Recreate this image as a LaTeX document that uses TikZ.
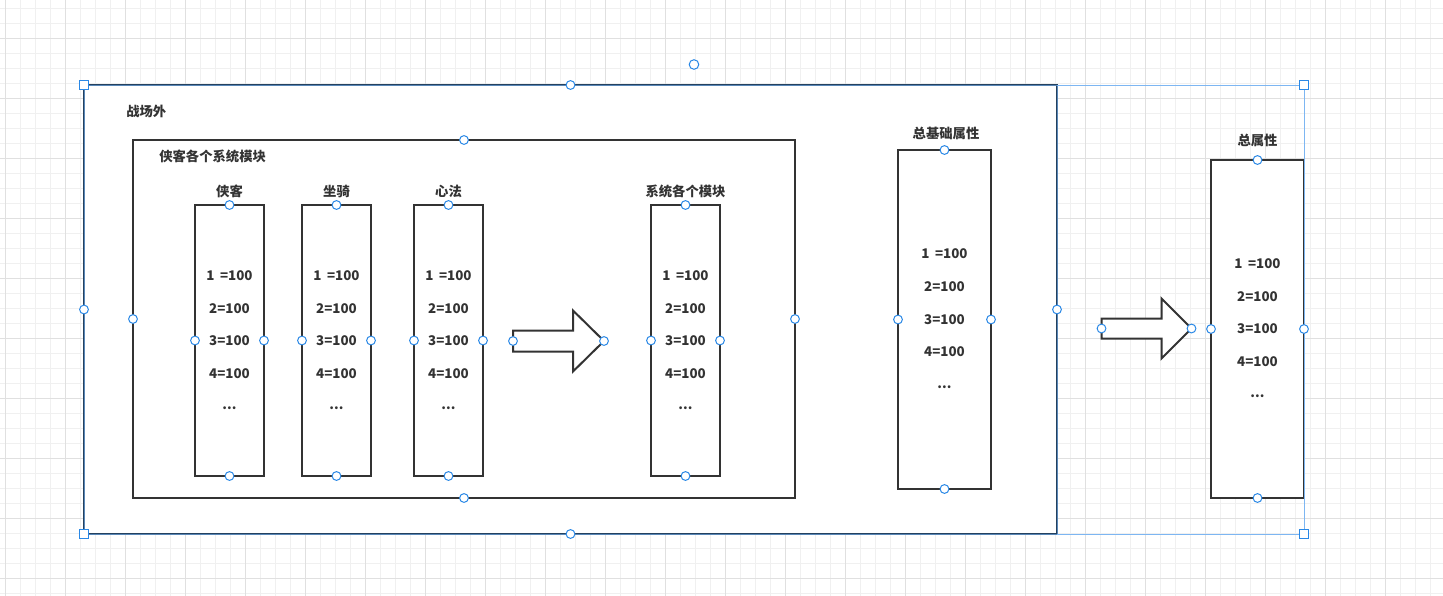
\documentclass[tikz,border=0pt]{standalone}
\usepackage{fontspec}
\setmainfont{Noto Sans CJK SC}
\usetikzlibrary{calc}
\begin{document}
\definecolor{ink}{HTML}{333333}
\definecolor{handle}{HTML}{2A88E6}
\definecolor{selline}{HTML}{7DB6F2}
\definecolor{gridminor}{HTML}{F0F0F0}
\definecolor{gridmajor}{HTML}{E0E0E0}
\definecolor{outerline}{HTML}{24415F}
\newcommand{\onehundred}{1\kern0.42em=100}
\begin{tikzpicture}[x=0.75pt,y=-0.75pt,
  box/.style={draw=ink, line width=1.5pt, fill=white, inner sep=0pt, outer sep=0pt},
  lbl/.style={font=\bfseries\fontsize{10}{12}\selectfont, text=ink, inner sep=0pt},
  hdl/.style={circle, draw=handle, fill=white, line width=0.75pt, minimum size=6.6pt, inner sep=0pt},
  sq/.style={rectangle, draw=handle, fill=white, line width=0.75pt, minimum size=6.5pt, inner sep=0pt},
  bigarrow/.style={draw=ink, line width=1.5pt, fill=white, line join=miter},
  sel/.style={draw=selline, line width=0.75pt}
]
\useasboundingbox (0,0) rectangle (1443,596);
\fill[white] (0,0) rectangle (1443,596);
% grid
\foreach \x in {5,20,...,1440} \draw[gridminor, line width=0.75pt] (\x,0) -- (\x,596);
\foreach \y in {8,23,...,596} \draw[gridminor, line width=0.75pt] (0,\y) -- (1443,\y);
\foreach \x in {5,65,...,1440} \draw[gridmajor, line width=0.75pt] (\x,0) -- (\x,596);
\foreach \y in {38,98,...,596} \draw[gridmajor, line width=0.75pt] (0,\y) -- (1443,\y);

% outer box
\node[box, draw=outerline, minimum width=729.75pt, minimum height=336.75pt] (outer) at (570.5,309.5) {};
\node[lbl, anchor=west] (outerlbl) at (126,111.5) {战场外};
% inner box
\node[box, minimum width=496.5pt, minimum height=268.5pt] (inner) at (464,319) {};
\node[lbl, anchor=west] (innerlbl) at (159,156) {侠客各个系统模块};

% column boxes
\foreach \n/\cx/\t in {c1/229.5/侠客, c2/336.5/坐骑, c3/448.5/心法, c4/685.5/系统各个模块}{
  \node[box, minimum width=51.75pt, minimum height=203.25pt] (\n) at (\cx,340.5) {};
  \node[lbl] (\n t) at (\cx,191) {\t};
  \node[lbl] (\n a) at (\cx,276) {\onehundred};
  \node[lbl] (\n b) at (\cx,308.5) {2=100};
  \node[lbl] (\n c) at (\cx,341) {3=100};
  \node[lbl] (\n d) at (\cx,373.5) {4=100};
  \node[lbl] (\n e) at (\cx,408.5) {...};
}

% base attributes
\node[box, minimum width=69.75pt, minimum height=254.25pt] (base) at (944.5,319.5) {};
\node[lbl] (baset) at (946,133) {总基础属性};
\node[lbl] (basea) at (944.5,254) {\onehundred};
\node[lbl] (baseb) at (944.5,287) {2=100};
\node[lbl] (basec) at (944.5,319.5) {3=100};
\node[lbl] (based) at (944.5,352) {4=100};
\node[lbl] (basee) at (944.5,387) {...};

% total attributes
\node[box, minimum width=69.75pt, minimum height=253.5pt] (total) at (1257.5,329) {};
\node[lbl] (totalt) at (1257.5,140) {总属性};
\node[lbl] (totala) at (1257.5,264) {\onehundred};
\node[lbl] (totalb) at (1257.5,296.5) {2=100};
\node[lbl] (totalc) at (1257.5,329) {3=100};
\node[lbl] (totald) at (1257.5,361.5) {4=100};
\node[lbl] (totale) at (1257.5,396.5) {...};

% big arrows
\coordinate (a1s) at (513,341);
\coordinate (a1e) at (604,341);
\draw[bigarrow] (513,330.5) -- (573,330.5) -- (573,310.5) -- (a1e) -- (573,371.5) -- (573,351.5) -- (513,351.5) -- cycle;
\coordinate (a2s) at (1101.5,328.5);
\coordinate (a2e) at (1191.5,328.5);
\draw[bigarrow] (1101.5,318.5) -- (1161.5,318.5) -- (1161.5,298.5) -- (a2e) -- (1161.5,358.5) -- (1161.5,338.5) -- (1101.5,338.5) -- cycle;

% selection outline
\coordinate (selne) at (total.east |- outer.north);
\coordinate (selse) at (total.east |- outer.south);
\draw[sel] (outer.north east) -- (selne) -- (selse) -- (outer.south east);
\draw[selline, line width=0.5pt, opacity=0.6] (outer.north west) rectangle (outer.south east);

% handles
\foreach \n in {outer, inner, c1, c2, c3, c4, base, total}{
  \node[hdl] (\n hn) at (\n.north) {};
  \node[hdl] (\n hs) at (\n.south) {};
  \node[hdl] (\n hw) at (\n.west) {};
  \node[hdl] (\n he) at (\n.east) {};
}
\node[hdl] (a1hs) at (a1s) {};
\node[hdl] (a1he) at (a1e) {};
\node[hdl] (a2hs) at (a2s) {};
\node[hdl] (a2he) at (a2e) {};
\node[sq] (sqnw) at (outer.north west) {};
\node[sq] (sqsw) at (outer.south west) {};
\node[sq] (sqne) at (selne) {};
\node[sq] (sqse) at (selse) {};
\coordinate (rotc) at ($(outer.north west)!0.5!(selne) + (0,-20.5)$);
\node[hdl, minimum size=7.2pt] (rot) at (rotc) {};
\end{tikzpicture}
\end{document}
